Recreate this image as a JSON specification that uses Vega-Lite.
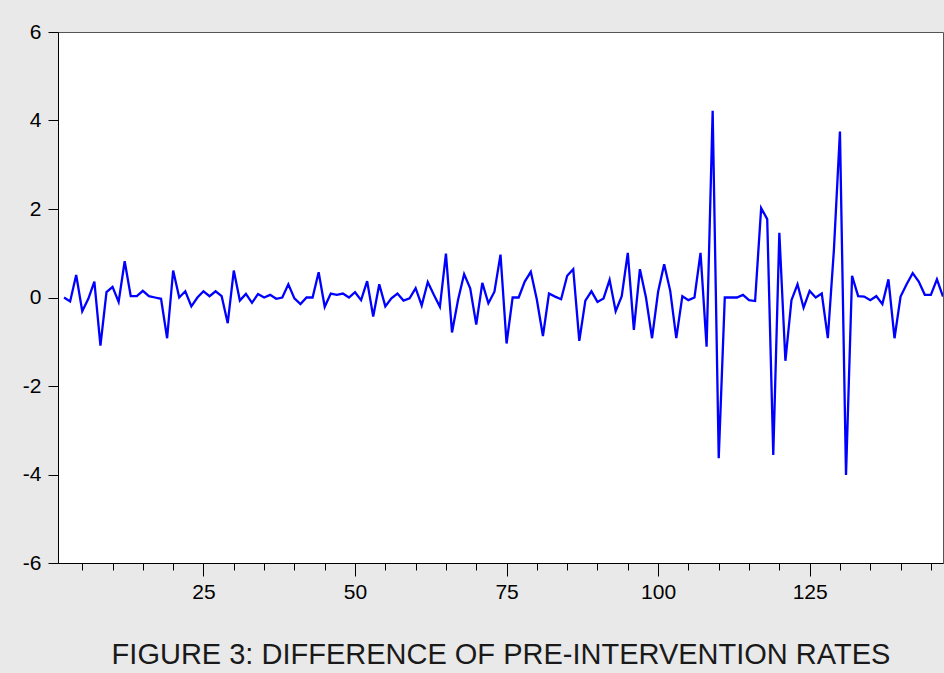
{
  "$schema": "https://vega.github.io/schema/vega-lite/v6.json",
  "width": 885,
  "height": 531,
  "autosize": {"type": "none"},
  "padding": {"left": 58, "top": 32, "right": 1, "bottom": 110},
  "background": "#e9e9e9",
  "config": {
    "font": "Liberation Sans",
    "view": {"fill": "#ffffff", "stroke": "#555555", "strokeWidth": 1}
  },
  "data": {
    "values": [
      {"t":2,"v":0.00},{"t":3,"v":-0.09},{"t":4,"v":0.51},{"t":5,"v":-0.31},{"t":6,"v":-0.03},
      {"t":7,"v":0.36},{"t":8,"v":-1.09},{"t":9,"v":0.12},{"t":10,"v":0.24},{"t":11,"v":-0.10},
      {"t":12,"v":0.82},{"t":13,"v":0.03},{"t":14,"v":0.03},{"t":15,"v":0.15},{"t":16,"v":0.03},
      {"t":17,"v":0.00},{"t":18,"v":-0.03},{"t":19,"v":-0.92},{"t":20,"v":0.61},{"t":21,"v":0.00},
      {"t":22,"v":0.14},{"t":23,"v":-0.20},{"t":24,"v":0.00},{"t":25,"v":0.14},{"t":26,"v":0.03},
      {"t":27,"v":0.14},{"t":28,"v":0.03},{"t":29,"v":-0.58},{"t":30,"v":0.61},{"t":31,"v":-0.07},
      {"t":32,"v":0.08},{"t":33,"v":-0.12},{"t":34,"v":0.08},{"t":35,"v":0.00},{"t":36,"v":0.06},
      {"t":37,"v":-0.03},{"t":38,"v":0.00},{"t":39,"v":0.30},{"t":40,"v":-0.02},{"t":41,"v":-0.15},
      {"t":42,"v":0.00},{"t":43,"v":0.00},{"t":44,"v":0.57},{"t":45,"v":-0.21},{"t":46,"v":0.09},
      {"t":47,"v":0.06},{"t":48,"v":0.09},{"t":49,"v":0.00},{"t":50,"v":0.12},{"t":51,"v":-0.06},
      {"t":52,"v":0.37},{"t":53,"v":-0.43},{"t":54,"v":0.30},{"t":55,"v":-0.20},{"t":56,"v":-0.02},
      {"t":57,"v":0.09},{"t":58,"v":-0.07},{"t":59,"v":-0.02},{"t":60,"v":0.21},{"t":61,"v":-0.18},
      {"t":62,"v":0.35},{"t":63,"v":0.06},{"t":64,"v":-0.21},{"t":65,"v":0.99},{"t":66,"v":-0.79},
      {"t":67,"v":-0.05},{"t":68,"v":0.53},{"t":69,"v":0.21},{"t":70,"v":-0.61},{"t":71,"v":0.33},
      {"t":72,"v":-0.13},{"t":73,"v":0.13},{"t":74,"v":0.97},{"t":75,"v":-1.04},{"t":76,"v":0.00},
      {"t":77,"v":0.00},{"t":78,"v":0.36},{"t":79,"v":0.58},{"t":80,"v":-0.05},{"t":81,"v":-0.87},
      {"t":82,"v":0.09},{"t":83,"v":0.02},{"t":84,"v":-0.04},{"t":85,"v":0.49},{"t":86,"v":0.64},
      {"t":87,"v":-0.98},{"t":88,"v":-0.07},{"t":89,"v":0.14},{"t":90,"v":-0.10},{"t":91,"v":-0.02},
      {"t":92,"v":0.40},{"t":93,"v":-0.31},{"t":94,"v":0.03},{"t":95,"v":1.01},{"t":96,"v":-0.73},
      {"t":97,"v":0.64},{"t":98,"v":0.00},{"t":99,"v":-0.92},{"t":100,"v":0.13},{"t":101,"v":0.75},
      {"t":102,"v":0.15},{"t":103,"v":-0.92},{"t":104,"v":0.03},{"t":105,"v":-0.06},{"t":106,"v":0.00},
      {"t":107,"v":1.01},{"t":108,"v":-1.11},{"t":109,"v":4.22},{"t":110,"v":-3.63},{"t":111,"v":0.00},
      {"t":112,"v":0.00},{"t":113,"v":0.00},{"t":114,"v":0.06},{"t":115,"v":-0.06},{"t":116,"v":-0.08},
      {"t":117,"v":2.02},{"t":118,"v":1.77},{"t":119,"v":-3.56},{"t":120,"v":1.46},{"t":121,"v":-1.43},
      {"t":122,"v":-0.06},{"t":123,"v":0.30},{"t":124,"v":-0.23},{"t":125,"v":0.15},{"t":126,"v":0.00},
      {"t":127,"v":0.09},{"t":128,"v":-0.92},{"t":129,"v":1.07},{"t":130,"v":3.75},{"t":131,"v":-4.01},
      {"t":132,"v":0.49},{"t":133,"v":0.03},{"t":134,"v":0.02},{"t":135,"v":-0.06},{"t":136,"v":0.03},
      {"t":137,"v":-0.15},{"t":138,"v":0.41},{"t":139,"v":-0.92},{"t":140,"v":0.02},{"t":141,"v":0.30},
      {"t":142,"v":0.55},{"t":143,"v":0.36},{"t":144,"v":0.06},{"t":145,"v":0.06},{"t":146,"v":0.41},
      {"t":147,"v":0.02}
    ]
  },
  "mark": {"type": "line", "color": "#0000ff", "strokeWidth": 2.3, "clip": true},
  "encoding": {
    "x": {
      "field": "t",
      "type": "quantitative",
      "scale": {"domain": [1, 147], "nice": false, "zero": false},
      "axis": {
        "values": [5,10,15,20,25,30,35,40,45,50,55,60,65,70,75,80,85,90,95,100,105,110,115,120,125,130,135,140,145],
        "labelExpr": "datum.value % 25 === 0 ? datum.label : ''",
        "labelOverlap": false,
        "labelFlush": false,
        "tickSize": {"condition": {"test": "datum.value % 25 === 0", "value": 13}, "value": 7},
        "tickColor": "#000000",
        "domainColor": "#000000",
        "grid": false,
        "labelFontSize": 21,
        "labelColor": "#000000",
        "labelPadding": 5,
        "title": "FIGURE 3: DIFFERENCE OF PRE-INTERVENTION RATES",
        "titleFontSize": 29,
        "titleFontWeight": "normal",
        "titleColor": "#1a1a1a",
        "titlePadding": 38
      }
    },
    "y": {
      "field": "v",
      "type": "quantitative",
      "scale": {"domain": [-6, 6], "nice": false},
      "axis": {
        "values": [-6, -4, -2, 0, 2, 4, 6],
        "labelExpr": "datum.value + ''",
        "tickSize": 10,
        "tickColor": "#000000",
        "domainColor": "#000000",
        "grid": false,
        "labelFontSize": 21,
        "labelColor": "#000000",
        "labelPadding": 7,
        "title": null
      }
    }
  }
}
